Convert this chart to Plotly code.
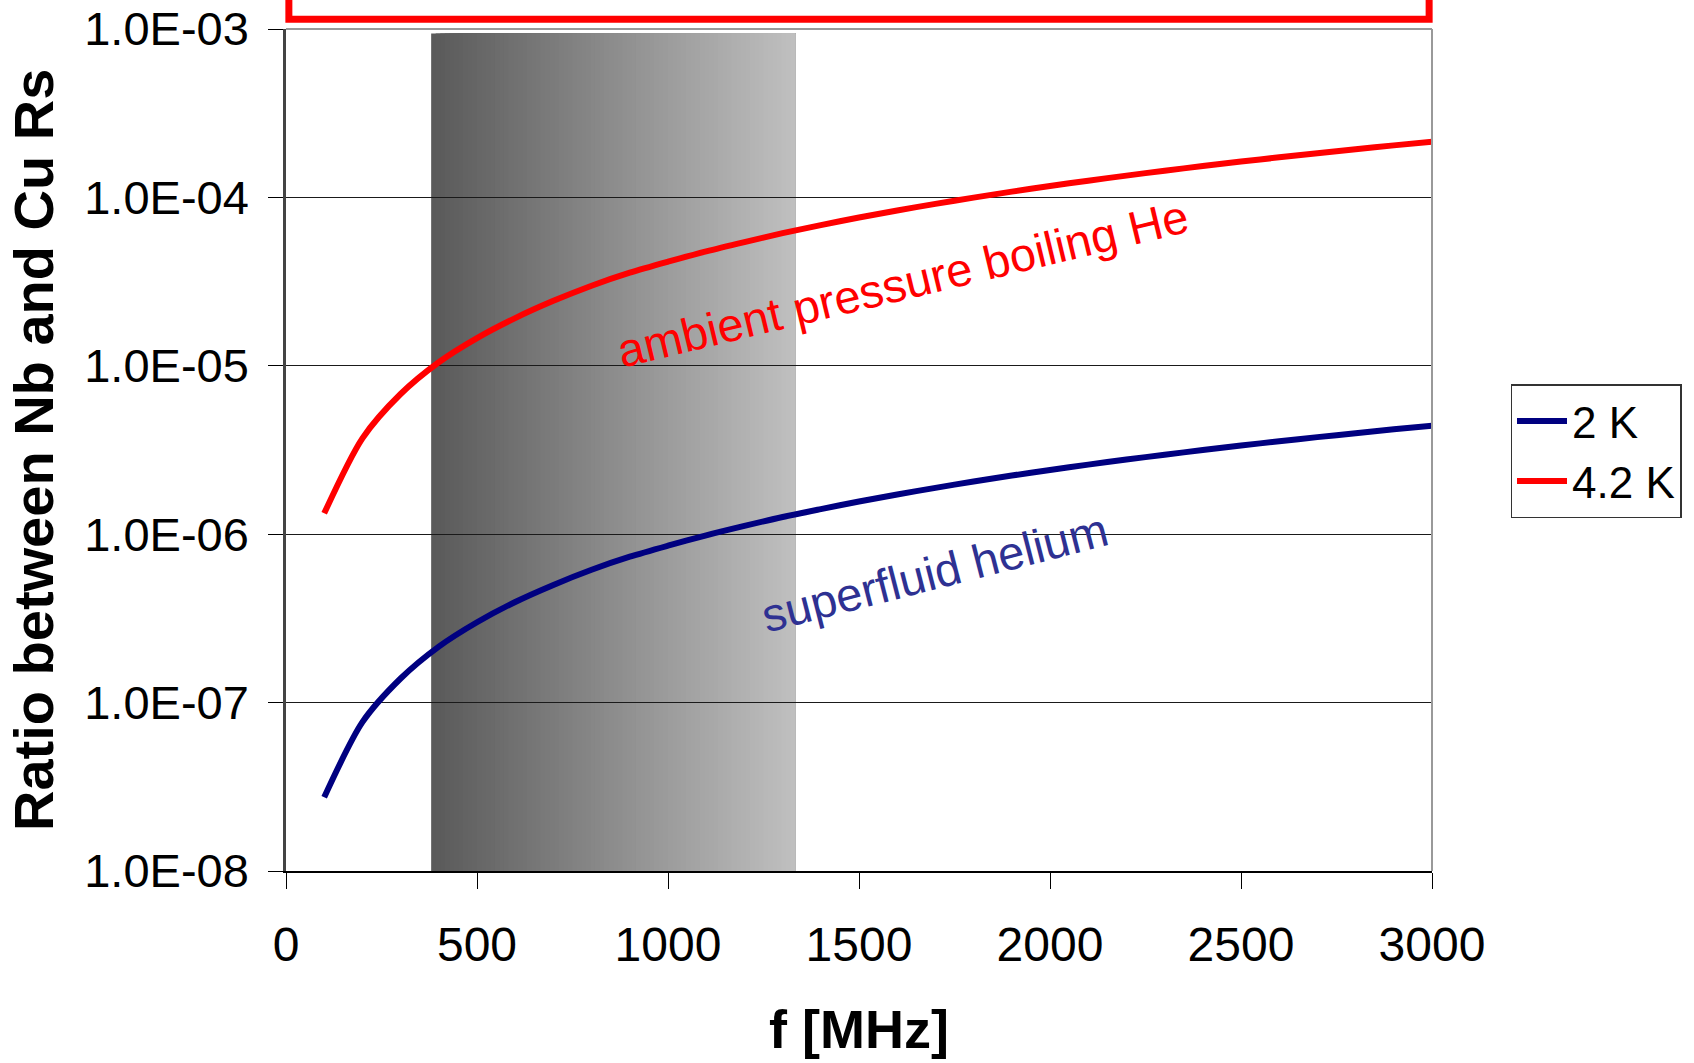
import plotly.graph_objects as go

# ---------------- data ----------------
freq_mhz = [100, 200, 300, 400, 500, 600, 700, 800, 900, 1000,
            1100, 1200, 1300, 1400, 1500, 1600, 1700, 1800, 1900, 2000,
            2100, 2200, 2300, 2400, 2500, 2600, 2700, 2800, 2900, 3000]

ratio_2k = [2.74e-8, 7.65e-8, 1.39e-7, 2.15e-7, 3.00e-7, 3.96e-7, 5.00e-7, 6.15e-7, 7.35e-7, 8.55e-7,
            9.85e-7, 1.12e-6, 1.265e-6, 1.41e-6, 1.565e-6, 1.72e-6, 1.885e-6, 2.055e-6, 2.23e-6, 2.405e-6,
            2.59e-6, 2.775e-6, 2.965e-6, 3.16e-6, 3.36e-6, 3.565e-6, 3.77e-6, 3.98e-6, 4.20e-6, 4.41e-6]

ratio_4k2 = [1.33e-6, 3.71e-6, 6.80e-6, 1.05e-5, 1.46e-5, 1.92e-5, 2.43e-5, 2.99e-5, 3.57e-5, 4.15e-5,
             4.78e-5, 5.43e-5, 6.13e-5, 6.85e-5, 7.60e-5, 8.36e-5, 9.15e-5, 9.97e-5, 1.082e-4, 1.168e-4,
             1.257e-4, 1.347e-4, 1.44e-4, 1.535e-4, 1.632e-4, 1.73e-4, 1.83e-4, 1.932e-4, 2.037e-4, 2.14e-4]

series_names = ["2 K", "4.2 K"]

y_tick_vals = [1e-8, 1e-7, 1e-6, 1e-5, 1e-4, 1e-3]
y_tick_text = ["1.0E-08", "1.0E-07", "1.0E-06", "1.0E-05", "1.0E-04", "1.0E-03"]
x_tick_vals = [0, 500, 1000, 1500, 2000, 2500, 3000]

band_f_start = 380     # MHz, shaded band
band_f_end = 1333
band_top = 9.4e-4

# ---------------- figure ----------------
W, H = 1694, 1063
ML, MR, MT, MB = 286, 262, 29, 192
FONT = "Liberation Sans, Arial, sans-serif"

fig = go.Figure()

# gradient band drawn as overlapping strips (below gridlines)
n_strips = 80
c0, c1 = 89, 192
shapes = []
for i in range(n_strips):
    t0 = i / n_strips
    g = int(round(c0 + (c1 - c0) * (i + 0.5) / n_strips))
    shapes.append(dict(
        type="rect", xref="x", yref="y", layer="below",
        x0=band_f_start + (band_f_end - band_f_start) * t0,
        x1=band_f_end,
        y0=y_tick_vals[0], y1=band_top,
        fillcolor=f"rgb({g},{g},{g})", line=dict(width=0),
    ))

# top / right plot border (gray)
shapes.append(dict(type="line", xref="paper", yref="paper", x0=0, x1=1, y0=1, y1=1,
                   line=dict(color="#999999", width=2)))
shapes.append(dict(type="line", xref="paper", yref="paper", x0=1, x1=1, y0=0, y1=1,
                   line=dict(color="#999999", width=2)))

# red title box cut at the top of the page
shapes.append(dict(type="rect", xref="paper", yref="paper",
                   x0=0.0025, x1=0.9975, y0=1.0115, y1=1.2,
                   fillcolor="white", line=dict(color="#ff0000", width=7)))

fig.add_trace(go.Scatter(x=freq_mhz, y=ratio_2k, name=series_names[0], mode="lines",
                         line=dict(color="#000080", width=6, shape="spline", smoothing=0.8)))
fig.add_trace(go.Scatter(x=freq_mhz, y=ratio_4k2, name=series_names[1], mode="lines",
                         line=dict(color="#ff0000", width=6, shape="spline", smoothing=0.8)))

annotations = [
    dict(text="ambient pressure boiling He", x=1613, y=-4.509, xref="x", yref="y",
         showarrow=False, textangle=-13.5,
         font=dict(family=FONT, size=47, color="#ff0000")),
    dict(text="superfluid helium", x=1698, y=-6.227, xref="x", yref="y",
         showarrow=False, textangle=-14.4,
         font=dict(family=FONT, size=47, color="#2e3192")),
    dict(text="<b>Ratio between Nb and Cu Rs</b>", x=0, y=0.5, xref="paper", yref="paper",
         xanchor="center", yanchor="middle", xshift=-253, textangle=-90, showarrow=False,
         font=dict(family=FONT, size=56, color="black")),
    dict(text="<b>f [MHz]</b>", x=0.5, y=0, xref="paper", yref="paper",
         xanchor="center", yanchor="middle", yshift=-158, showarrow=False,
         font=dict(family=FONT, size=54, color="black")),
]

fig.update_layout(
    width=W, height=H,
    margin=dict(l=ML, r=MR, t=MT, b=MB, pad=0, autoexpand=False),
    paper_bgcolor="white", plot_bgcolor="white",
    font=dict(family=FONT, color="black"),
    shapes=shapes,
    annotations=annotations,
    showlegend=True,
    legend=dict(x=1.0685, y=0.578, xanchor="left", yanchor="top",
                bordercolor="#333333", borderwidth=1.5, bgcolor="white",
                font=dict(size=44, color="black"), itemwidth=50,
                tracegroupgap=0),
    xaxis=dict(range=[0, 3000], tickvals=x_tick_vals, showgrid=False, zeroline=False,
               automargin=False,
               showline=True, linecolor="black", linewidth=2,
               ticks="outside", ticklen=16, tickwidth=1.2, tickcolor="black",
               ticklabelstandoff=14,
               tickfont=dict(size=48, color="black")),
    yaxis=dict(type="log", range=[-8, -3], tickvals=y_tick_vals, ticktext=y_tick_text,
               automargin=False,
               showgrid=True, gridcolor="#1a1a1a", gridwidth=1.2, zeroline=False,
               showline=True, linecolor="#444444", linewidth=2.5,
               ticks="outside", ticklen=15, tickwidth=1.2, tickcolor="black",
               ticklabelstandoff=10,
               tickfont=dict(size=47, color="black")),
)

fig.write_html("out.html")
